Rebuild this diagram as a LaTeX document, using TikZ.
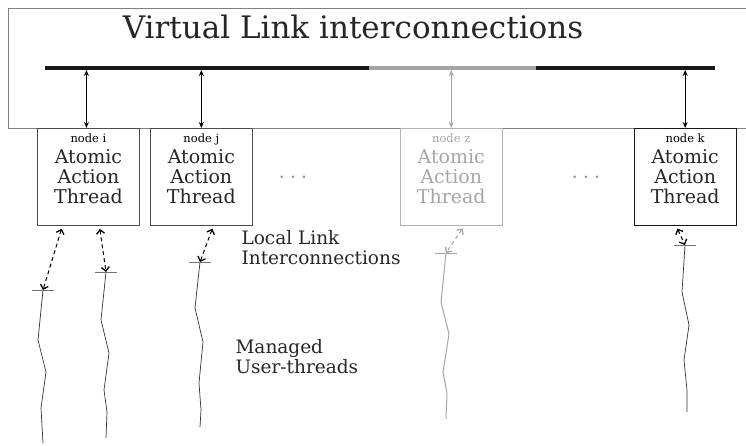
\documentclass[tikz,border=0pt]{standalone}
\usepackage{fontspec}
\setmainfont{DejaVu Serif}
\usetikzlibrary{positioning, arrows.meta}

\tikzset{
  thread/.style={draw=black!70, line width=0.9pt, minimum width=102pt, minimum height=97pt,
    inner sep=0pt, align=center, text=black!85, font=\fontsize{19}{20}\selectfont},
  ghost/.style={draw=black!30, text=black!35},
  tag/.style={anchor=north, yshift=-2pt, font=\fontsize{11.5}{12}\selectfont},
  link/.style={{Stealth[length=6pt,width=5pt]}-{Stealth[length=6pt,width=5pt]}, line width=1.1pt, shorten >=2pt},
  local/.style={{Straight Barb[length=4pt,width=8pt,line width=1.3pt]}-{Straight Barb[length=4pt,width=8pt,line width=1.3pt]},
    dashed, line width=1pt, dash pattern=on 4pt off 3pt, shorten <=3pt},
  wave/.style={line width=0.7pt, black!80},
  tickmark/.style={line width=0.8pt, black!55},
  note/.style={align=left, anchor=west, text=black!85, font=\fontsize{18.5}{20}\selectfont}
}

\begin{document}
\begin{tikzpicture}[x=1pt, y=1pt]
\useasboundingbox (0,0) rectangle (746,445);
\node[draw=black!50, line width=0.9pt, minimum width=760pt, minimum height=120pt,
  anchor=north west, inner sep=0pt] (vl) at (8,437) {};
\node[font=\fontsize{31}{32}\selectfont, text=black!85] (title) at (353,418) {Virtual Link interconnections};

% bus
\coordinate (b0) at (45,377);
\coordinate (b1) at (369,377);
\coordinate (b2) at (536,377);
\coordinate (b3) at (715,377);
\draw[line width=4pt, black!90] (b0) -- (b1);
\draw[line width=4pt, black!35] (b1) -- (b2);
\draw[line width=4pt, black!90] (b2) -- (b3);

% atomic action threads
\node[thread, anchor=north west, label={[tag]north:node i}] (ni) at (37,317) {Atomic\\Action\\Thread};
\node[thread, right=10pt of ni, label={[tag]north:node j}] (nj) {Atomic\\Action\\Thread};
\node[thread, ghost, right=147pt of nj, label={[tag, text=black!35]north:node z}] (nz) {Atomic\\Action\\Thread};
\node[thread, draw=black!90, right=131pt of nz, label={[tag]north:node k}] (nk) {Atomic\\Action\\Thread};

\node[text=black!40, font=\fontsize{24}{24}\selectfont] (d1) at (293,267) {$\cdots$};
\node[text=black!40, font=\fontsize{24}{24}\selectfont] (d2) at (586,267) {$\cdots$};

\draw[link] ([xshift=-2pt]ni.north) -- ([xshift=-2pt]ni.north |- b0);
\draw[link] (nj.north) -- (nj.north |- b0);
\draw[link, black!35] (nz.north) -- (nz.north |- b0);
\draw[link] (nk.north) -- (nk.north |- b0);

% user threads
\coordinate (ui) at (43,155);
\coordinate (uii) at (106,173);
\coordinate (uj) at (200,183);
\coordinate (uz) at (446,192);
\coordinate (uk) at (685,200);

\draw[wave] (ui) -- (38,105) -- (46,73) -- (41,37) -- (43,2);
\draw[wave] (uii) -- (101,125) -- (109,92) -- (104,55) -- (107,33) -- (106,7);
\draw[wave] (uj) -- (195,137) -- (203,103) -- (199,62) -- (201,35) -- (200,18);
\draw[wave, black!35, line width=1pt] (uz) -- (441,143) -- (449,111) -- (443,73) -- (447,52) -- (446,26);
\draw[wave] (uk) -- (682,153) -- (689,120) -- (684,85) -- (687,55) -- (687,33);

\foreach \u in {ui,uii,uj,uk}
  \draw[tickmark] ([xshift=-11pt]\u) -- ([xshift=11pt]\u);
\draw[tickmark, black!35] ([xshift=-11pt]uz) -- ([xshift=11pt]uz);

\draw[local] ([xshift=-26pt]ni.south) -- (ui);
\draw[local] ([xshift=11pt]ni.south) -- (uii);
\draw[local] ([xshift=12pt]nj.south) -- (uj);
\draw[local, black!35] ([xshift=13pt]nz.south) -- (uz);
\draw[local] ([xshift=-9pt]nk.south) -- (uk);

\node[note] (ll) at (238,197) {Local Link\\Interconnections};
\node[note] (mu) at (232,88) {Managed\\User-threads};
\end{tikzpicture}
\end{document}
